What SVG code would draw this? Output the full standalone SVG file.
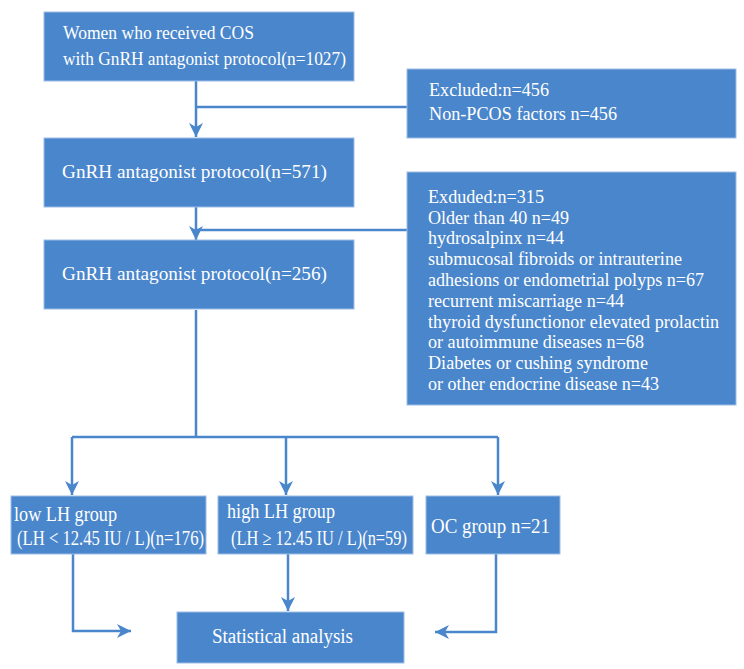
<svg xmlns="http://www.w3.org/2000/svg" width="744" height="669" viewBox="0 0 744 669">
<style>
.box{fill:#4a86cb;stroke:#9dbde6;stroke-width:1}
.t{fill:#ffffff;font-family:"Liberation Serif","Times New Roman",serif;font-size:19.5px}
.s{fill:#ffffff;font-family:"Liberation Serif","Times New Roman",serif;font-size:18px}
.g{fill:#ffffff;font-family:"Liberation Serif","Times New Roman",serif;font-size:20px}
.c{fill:none;stroke:#4a86cb;stroke-width:2.5}
</style>
<defs>
<marker id="ah" viewBox="0 0 14 14" refX="14" refY="7" markerWidth="14" markerHeight="14" markerUnits="userSpaceOnUse" orient="auto">
<path d="M0,0 L14,7 L0,14 L4,7 Z" fill="#4a86cb"/>
</marker>
</defs>
<g id="connectors">
<path class="c" d="M196,81 V137" marker-end="url(#ah)"/>
<path class="c" d="M407,107 H196"/>
<path class="c" d="M196,207 V240" marker-end="url(#ah)"/>
<path class="c" d="M407,230 H196"/>
<path class="c" d="M196,310 V437"/>
<path class="c" d="M72,437 H498"/>
<path class="c" d="M72,437 V495" marker-end="url(#ah)"/>
<path class="c" d="M286,437 V495" marker-end="url(#ah)"/>
<path class="c" d="M498,437 V495" marker-end="url(#ah)"/>
<path class="c" d="M73,554 V631 H131" marker-end="url(#ah)"/>
<path class="c" d="M288,554 V611" marker-end="url(#ah)"/>
<path class="c" d="M496,554 V632 H435" marker-end="url(#ah)"/>
</g>
<g id="n1">
<rect class="box" x="44" y="12" width="310" height="69"/>
<text class="t" x="63" y="39" textLength="191" lengthAdjust="spacingAndGlyphs">Women who received COS</text>
<text class="t" x="63" y="65" textLength="283" lengthAdjust="spacingAndGlyphs">with GnRH antagonist protocol(n=1027)</text>
</g>
<g id="excl1">
<rect class="box" x="407" y="69" width="329" height="69"/>
<text class="s" x="429" y="96" textLength="120" lengthAdjust="spacingAndGlyphs">Excluded:n=456</text>
<text class="s" x="429" y="120" textLength="188" lengthAdjust="spacingAndGlyphs">Non-PCOS factors n=456</text>
</g>
<g id="n2">
<rect class="box" x="44" y="138" width="310" height="69"/>
<text class="t" x="62" y="178" textLength="265" lengthAdjust="spacingAndGlyphs">GnRH antagonist protocol(n=571)</text>
</g>
<g id="excl2">
<rect class="box" x="407" y="172" width="329" height="233"/>
<text class="s" x="428" y="203" textLength="116" lengthAdjust="spacingAndGlyphs">Exduded:n=315</text>
<text class="s" x="428" y="224" textLength="141" lengthAdjust="spacingAndGlyphs">Older than 40 n=49</text>
<text class="s" x="428" y="244" textLength="136" lengthAdjust="spacingAndGlyphs">hydrosalpinx n=44</text>
<text class="s" x="428" y="265" textLength="254" lengthAdjust="spacingAndGlyphs">submucosal fibroids or intrauterine</text>
<text class="s" x="428" y="286" textLength="276" lengthAdjust="spacingAndGlyphs">adhesions or endometrial polyps n=67</text>
<text class="s" x="428" y="307" textLength="196" lengthAdjust="spacingAndGlyphs">recurrent miscarriage n=44</text>
<text class="s" x="428" y="328" textLength="291" lengthAdjust="spacingAndGlyphs">thyroid dysfunctionor elevated prolactin</text>
<text class="s" x="428" y="348" textLength="216" lengthAdjust="spacingAndGlyphs">or autoimmune diseases n=68</text>
<text class="s" x="428" y="369" textLength="220" lengthAdjust="spacingAndGlyphs">Diabetes or cushing syndrome</text>
<text class="s" x="428" y="390" textLength="231" lengthAdjust="spacingAndGlyphs">or other endocrine disease n=43</text>
</g>
<g id="n3">
<rect class="box" x="44" y="240" width="310" height="69"/>
<text class="t" x="62" y="280" textLength="265" lengthAdjust="spacingAndGlyphs">GnRH antagonist protocol(n=256)</text>
</g>
<g id="low">
<rect class="box" x="11" y="496" width="195" height="58"/>
<text class="g" x="14" y="521" textLength="103" lengthAdjust="spacingAndGlyphs">low LH group</text>
<text class="g" x="17" y="545" textLength="187" lengthAdjust="spacingAndGlyphs">(LH &lt; 12.45 IU / L)(n=176)</text>
</g>
<g id="high">
<rect class="box" x="218" y="496" width="195" height="58"/>
<text class="g" x="227" y="518" textLength="108" lengthAdjust="spacingAndGlyphs">high LH group</text>
<text class="g" x="231" y="545" textLength="176" lengthAdjust="spacingAndGlyphs">(LH ≥ 12.45 IU / L)(n=59)</text>
</g>
<g id="oc">
<rect class="box" x="426" y="496" width="134" height="58"/>
<text class="g" x="431" y="533" textLength="119" lengthAdjust="spacingAndGlyphs">OC group n=21</text>
</g>
<g id="stat">
<rect class="box" x="177" y="612" width="227" height="51"/>
<text class="g" x="212" y="643" textLength="141" lengthAdjust="spacingAndGlyphs">Statistical analysis</text>
</g>
</svg>
